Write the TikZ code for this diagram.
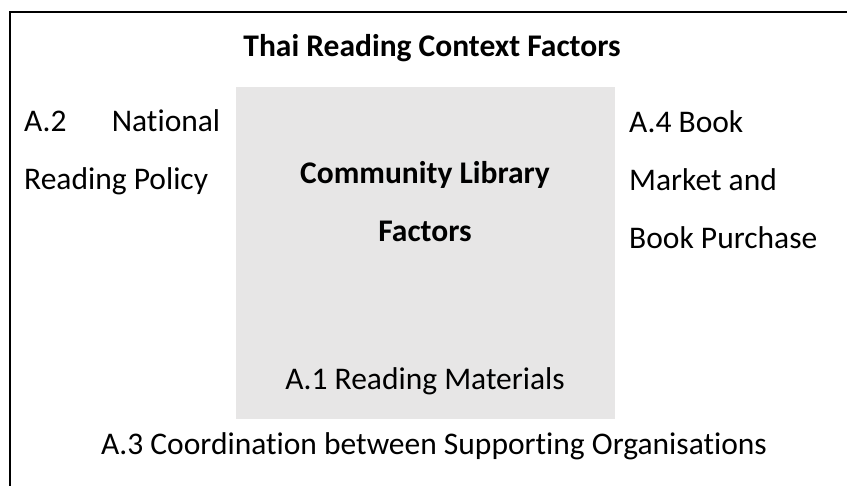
\documentclass[tikz,border=0pt]{standalone}
\usepackage{fontspec}
\setmainfont{Carlito}[Ligatures={NoCommon}]
\definecolor{boxgray}{HTML}{E7E6E6}
\begin{document}
\begin{tikzpicture}[x=1pt,y=-1pt,
  txt/.style={inner sep=0pt,font=\fontsize{31.5}{38}\selectfont},
  btxt/.style={txt,font=\fontsize{31.5}{38}\selectfont\bfseries}]
\useasboundingbox (0,0) rectangle (847,486);
\fill[boxgray] (236,87) rectangle (615,419);
\draw[line width=2pt] (10,486) -- (10,12) -- (847,12);
\node[btxt,anchor=base] (title) at (432,57) {Thai Reading Context Factors};
\node[txt,anchor=base west] (a2a) at (24,132) {\makebox[196pt][s]{A.2\hfill National}};
\node[txt,anchor=base west] (a2b) at (24,190) {Reading Policy};
\node[btxt,anchor=base] (c1) at (425,184) {Community Library};
\node[btxt,anchor=base] (c2) at (425,242) {Factors};
\node[txt,anchor=base] (a1) at (425,390) {A.1 Reading Materials};
\node[txt,anchor=base west] (a4a) at (629,133) {A.4 Book};
\node[txt,anchor=base west] (a4b) at (629,191) {Market and};
\node[txt,anchor=base west] (a4c) at (629,249) {Book Purchase};
\node[txt,anchor=base] (a3) at (434,455) {A.3 Coordination between Supporting Organisations};
\end{tikzpicture}
\end{document}
